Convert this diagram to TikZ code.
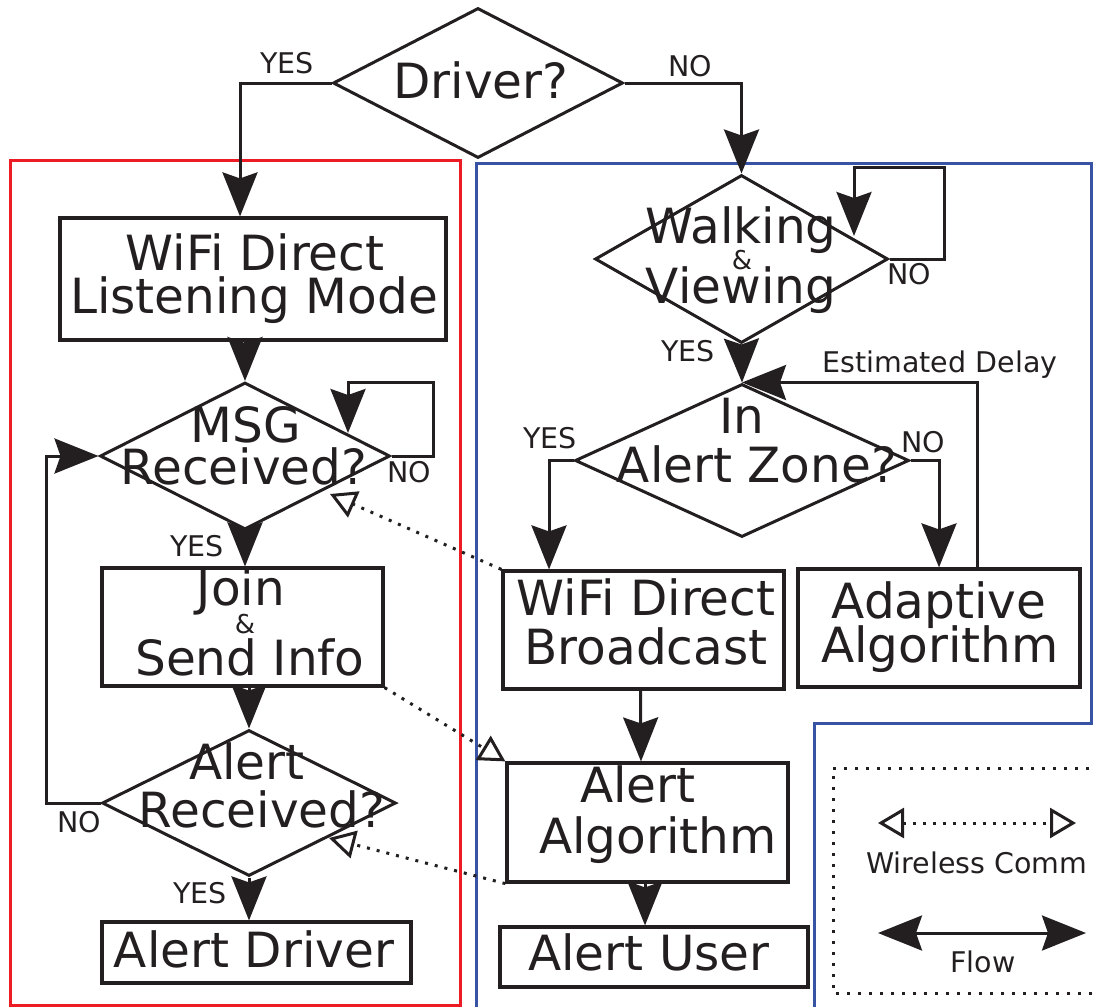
\documentclass[tikz,border=0pt]{standalone}
\usepackage{fontspec}
\setmainfont{DejaVu Sans}
\usetikzlibrary{arrows.meta,shapes.geometric}
\definecolor{ink}{HTML}{231F20}
\definecolor{redf}{HTML}{ED1C24}
\definecolor{bluef}{HTML}{3953A4}
\begin{document}
\begin{tikzpicture}[x=1pt,y=-1pt,
  box/.style={draw=ink,line width=3.2pt,rectangle,inner sep=0pt},
  dia/.style={draw=ink,line width=3pt,diamond,inner sep=0pt},
  t/.style={font=\fontsize{48.5}{58}\selectfont,text=ink,anchor=base,inner sep=0pt},
  amp/.style={font=\fontsize{26}{30}\selectfont,text=ink,anchor=base,inner sep=0pt},
  lbl/.style={font=\fontsize{28.5}{34}\selectfont,text=ink,anchor=base,inner sep=0pt},
  flow/.style={draw=ink,line width=3pt,-{Stealth[length=44pt,width=35pt,inset=6pt]}},
  wl/.style={draw=ink,line width=3pt,dash pattern=on 3pt off 7pt,-{Triangle[open,length=26pt,width=28pt]}},
  frame/.style={line width=3pt}]
\useasboundingbox (0,0) rectangle (1096,1007);

% frames
\draw[frame,draw=redf] (10,160) rectangle (460,1005);
\draw[frame,draw=bluef] (476,1012) -- (476,163) -- (1091,163) -- (1091,723) -- (814,723) -- (814,1012);

% top decision
\node[dia,minimum width=290pt,minimum height=150pt] (driver) at (478,83) {};
\node[t] (tDriver) at (481,98) {Driver?};
\node[lbl] (lYes1) at (287,73) {YES};
\node[lbl] (lNo1) at (690,76) {NO};

% left column
\node[box,minimum width=386pt,minimum height=122pt] (wifiL) at (253,279) {};
\node[t] (tWL1) at (255,270) {WiFi Direct};
\node[t] (tWL2) at (254,313) {Listening Mode};

\node[dia,minimum width=290pt,minimum height=147pt] (msg) at (245,456) {};
\node[t] (tMsg1) at (246,442) {MSG};
\node[t] (tMsg2) at (244,484) {Received?};
\node[lbl] (lNo2) at (409,482) {NO};
\node[lbl] (lYes2) at (197,556) {YES};

\node[box,minimum width=281pt,minimum height=118pt] (join) at (242.5,627) {};
\node[t] (tJ1) at (241,605) {Join};
\node[amp] (tJ2) at (245,633) {\&};
\node[t] (tJ3) at (250,675) {Send Info};

\node[dia,minimum width=294pt,minimum height=146pt] (arec) at (249,803) {};
\node[t] (tAR1) at (247,779) {Alert};
\node[t] (tAR2) at (262,827) {Received?};
\node[lbl] (lNo3) at (79,832) {NO};
\node[lbl] (lYes3) at (200,903) {YES};

\node[box,minimum width=309pt,minimum height=61pt] (adrv) at (256.5,952.5) {};
\node[t] (tAD) at (254,967) {Alert Driver};

% right column
\node[dia,minimum width=293pt,minimum height=168pt] (walk) at (741.5,259) {};
\node[t] (tW1) at (741,243) {Walking};
\node[amp] (tW2) at (742,269) {\&};
\node[t] (tW3) at (741,303) {Viewing};
\node[lbl] (lNo4) at (909,284) {NO};
\node[lbl] (lYes4) at (688,361) {YES};

\node[dia,minimum width=334pt,minimum height=153pt] (zone) at (742,460.5) {};
\node[t] (tZ1) at (742,433) {In};
\node[t] (tZ2) at (757,482) {Alert Zone?};
\node[lbl] (lYes5) at (550,448) {YES};
\node[lbl] (lNo5) at (923,452) {NO};
\node[lbl] (lDelay) at (940,372) {Estimated Delay};

\node[box,minimum width=281pt,minimum height=118pt] (bcast) at (643.5,630) {};
\node[t] (tB1) at (646,615) {WiFi Direct};
\node[t] (tB2) at (646,664) {Broadcast};

\node[box,minimum width=282pt,minimum height=118pt] (adapt) at (939,628) {};
\node[t] (tAd1) at (939,618) {Adaptive};
\node[t] (tAd2) at (940,662) {Algorithm};

\node[box,minimum width=281pt,minimum height=119pt] (aalg) at (647.5,822.5) {};
\node[t] (tAA1) at (638,802) {Alert};
\node[t] (tAA2) at (658,853) {Algorithm};

\node[box,minimum width=308pt,minimum height=60pt] (auser) at (654,957) {};
\node[t] (tAU) at (649,970) {Alert User};

% loop end coordinates
\coordinate (msgLoop) at (348,433);
\coordinate (walkLoop) at (854,236);
\coordinate (msgTip) at (330,494);
\coordinate (arecTip) at (329,838);

% flow connectors
\draw[flow] (driver.west) -| ([xshift=-13pt]wifiL.north);
\draw[flow] (driver.east) -| (walk.north);
\draw[flow] (msg.north |- wifiL.south) -- (msg.north);
\draw[flow] (msg.east) -| ++(42,-74) -| (msgLoop);
\draw[flow] (msg.south) -- (msg.south |- join.north);
\draw[flow] (arec.north |- join.south) -- (arec.north);
\draw[flow] (arec.west) -- ++(-54,0) |- (msg.west);
\draw[flow] (arec.south) -- (arec.south |- adrv.north);

\draw[flow] (walk.east) -| ++(55,-92) -| (walkLoop);
\draw[flow] (walk.south) -- (zone.north);
\draw[flow] (zone.west) -| ([xshift=-94.5pt]bcast.north);
\draw[flow] (zone.east) -| (adapt.north);
\draw[flow] ([xshift=38pt]adapt.north) |- (zone.north);
\draw[flow] ([xshift=-3pt]bcast.south) -- ([xshift=-6.5pt]aalg.north);
\draw[flow] ([xshift=-2.5pt]aalg.south) -- ([xshift=-9pt]auser.north);

% wireless links
\draw[wl] (bcast.north west) -- (msgTip);
\draw[wl] (join.south east) -- (aalg.north west);
\draw[wl] (aalg.south west) -- (arecTip);

% legend
\draw[draw=ink,line width=3pt,dash pattern=on 3pt off 8pt] (1100,768) -- (833,768) -- (833,993) -- (1100,993);
\coordinate (wcL) at (878,823);
\coordinate (wcR) at (1076,823);
\draw[draw=ink,line width=3pt,dash pattern=on 3pt off 7pt,{Triangle[open,length=26pt,width=30pt]}-{Triangle[open,length=26pt,width=30pt]}] (wcL) -- (wcR);
\node[lbl,anchor=base west] (lWC) at (866,873) {Wireless Comm};
\coordinate (flL) at (878,933);
\coordinate (flR) at (1086,933);
\draw[draw=ink,line width=3pt,{Stealth[length=44pt,width=35pt,inset=6pt]}-{Stealth[length=44pt,width=35pt,inset=6pt]}] (flL) -- (flR);
\node[lbl] (lFlow) at (983,972) {Flow};
\end{tikzpicture}
\end{document}
